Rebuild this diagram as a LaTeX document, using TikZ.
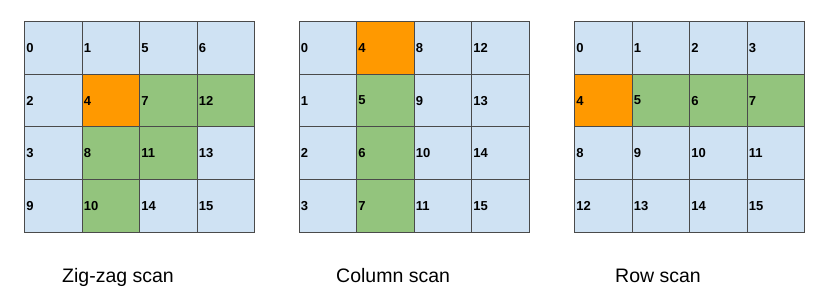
\documentclass[tikz,border=0pt]{standalone}
\usepackage{fontspec}
\setmainfont{Liberation Sans}
\usepackage{xcolor}
\definecolor{cb}{HTML}{CFE2F3}
\definecolor{co}{HTML}{FF9900}
\definecolor{cg}{HTML}{93C47D}
\definecolor{gridgray}{HTML}{4A4A4A}

% one 4x4 grid: name, left edge, entries value/colour
\newcommand{\scangrid}[3]{%
  \foreach \v/\f [count=\i from 0] in {#3} {
    \pgfmathtruncatemacro\r{\i/4}
    \pgfmathtruncatemacro\c{mod(\i,4)}
    \node[cell, fill=\f] (#1-\r-\c) at ({#2+\c*57.5}, {21+\r*52.75}) {\v};
  }
}

\begin{document}
\begin{tikzpicture}[x=1pt, y=-1pt,
  cell/.style={draw=gridgray, line width=0.9pt, anchor=north west,
    inner xsep=2pt, inner ysep=0pt, text width=53.5pt, align=left,
    minimum height=52.75pt, font=\fontsize{13}{13}\selectfont\bfseries},
  caption/.style={anchor=base west, inner sep=0pt, font=\fontsize{19.5}{19.5}\selectfont}]
  \useasboundingbox (0,0) rectangle (814,302);

  \scangrid{zz}{24}{0/cb,1/cb,5/cb,6/cb,
    2/cb,4/co,7/cg,12/cg,
    3/cb,8/cg,11/cg,13/cb,
    9/cb,10/cg,14/cb,15/cb}
  \scangrid{col}{298.5}{0/cb,4/co,8/cb,12/cb,
    1/cb,5/cg,9/cb,13/cb,
    2/cb,6/cg,10/cb,14/cb,
    3/cb,7/cg,11/cb,15/cb}
  \scangrid{row}{574}{0/cb,1/cb,2/cb,3/cb,
    4/co,5/cg,6/cg,7/cg,
    8/cb,9/cb,10/cb,11/cb,
    12/cb,13/cb,14/cb,15/cb}

  \node[caption] (zzcap) at (62,282) {Zig-zag scan};
  \node[caption] (colcap) at (336,282) {Column scan};
  \node[caption] (rowcap) at (615,282) {Row scan};
\end{tikzpicture}
\end{document}
